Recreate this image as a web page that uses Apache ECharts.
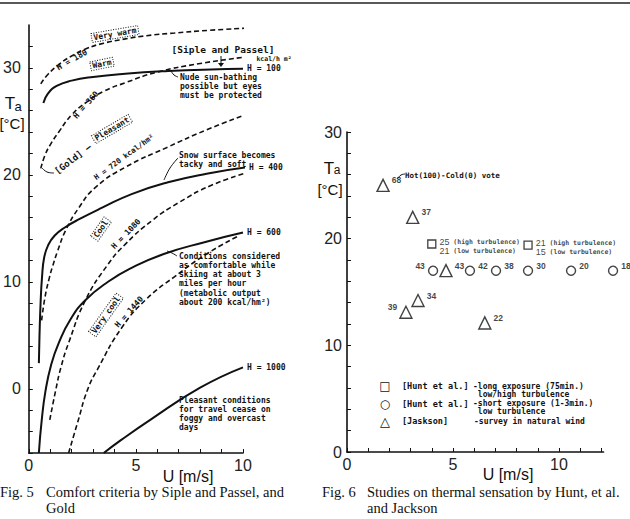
<!DOCTYPE html>
<html>
<head>
<meta charset="UTF-8">
<script src="https://cdn.jsdelivr.net/npm/echarts@6/dist/echarts.min.js"></script>
<style>html,body{margin:0;background:#fff}#main{width:630px;height:519px}</style>
</head>
<body>
<div id="main"></div>
<script>
// Fig. 5 curves, [U (m/s), Ta (C)]
const h100 = [[0.68,26.7],[0.9,27.6],[1.3,28.3],[2.0,28.8],[3.0,29.15],[4.5,29.45],[6.5,29.7],[8.5,29.85],[10.0,29.9]];
const h180 = [[0.56,28.5],[0.9,29.4],[1.4,30.3],[2.0,31.1],[2.7,31.8],[3.5,32.3],[4.5,32.7],[5.5,33.0],[6.8,33.25],[8.4,33.5],[10.1,33.7]];
const h360 = [[0.56,20.6],[0.75,21.8],[1.0,22.8],[1.4,24.0],[2.0,25.6],[2.7,26.8],[3.5,27.8],[4.5,28.6],[6.0,29.6],[8.0,30.4],[10.1,31.0]];
const h400 = [[0.47,2.4],[0.5,5],[0.55,8],[0.62,10.5],[0.72,12.3],[0.9,13.4],[1.2,14.3],[1.7,15.1],[2.4,15.9],[3.4,16.9],[4.8,18.2],[6.5,19.3],[8.3,20.1],[10.2,20.7]];
const h600 = [[0.47,-6],[0.6,-3],[0.78,-0.2],[1.05,2.3],[1.4,4.3],[1.95,6.5],[2.65,8.3],[3.7,10.0],[4.8,11.3],[6.3,12.6],[8.2,13.7],[10.0,14.6]];
const h720 = [[0.6,6.4],[0.75,8.5],[0.95,10.3],[1.12,11.5],[1.35,12.9],[1.72,14.8],[2.33,16.9],[3.1,18.8],[4.5,20.7],[6.5,22.6],[8.3,24.2],[10.1,25.6]];
const h1000 = [[3.5,-6],[4.3,-4.8],[5.67,-2.9],[8.0,0.1],[10.0,2.0]];
const h1080 = [[0.98,-2.9],[1.26,-0.1],[1.5,2.0],[1.86,4.3],[2.65,8.3],[3.65,11.5],[4.5,13.5],[5.8,15.8],[7.0,17.4],[8.5,19.0],[10.2,20.2]];
const h1440 = [[1.86,-6],[2.3,-3],[2.74,-0.1],[3.2,1.8],[4.37,5.8],[5.5,8.4],[6.75,10.4],[8.3,12.6],[9.8,14.3]];

// Fig. 6 points
const triU = [1.7, 3.1, 4.67, 3.35, 2.78, 6.5];
const triT = [25, 22, 17, 14.2, 13.1, 12.1];
const triV = ['68', '37', '43', '34', '39', '22'];
const cirU = [4.06, 5.8, 7.03, 8.54, 10.57, 12.55];
const cirT = [17, 17, 17, 17, 17, 17];
const cirV = ['43', '42', '38', '30', '20', '18'];
const sqU = [4.0, 8.54];
const sqT = [19.5, 19.4];
const sqHigh = ['25', '21'];
const sqLow = ['21', '15'];

const MONO = '"DejaVu Sans Mono", monospace';
const SANS = '"Liberation Sans", Arial, sans-serif';
const SERIF = '"Liberation Serif", serif';
const INK = '#111';

let myChart = echarts.init(document.getElementById('main'), null, {renderer: 'svg'});

function curve(data, dashed, endText) {
    let s = {
        type: 'line', xAxisIndex: 0, yAxisIndex: 0, data: data,
        smooth: 0.5, symbol: 'none', silent: true,
        lineStyle: {color: INK, width: dashed ? 1.6 : 2, type: dashed ? [5, 3] : 'solid'}
    };
    if (endText) {
        s.endLabel = {show: true, formatter: endText, fontFamily: MONO, fontSize: 8, fontWeight: 'bold', color: INK, distance: 4};
    }
    return s;
}

function pts(us, ts, vs, side) {
    return us.map((u, i) => ({
        value: [u, ts[i]],
        label: {formatter: vs[i], position: (side && side[i]) || 'right', offset: [0, -5]}
    }));
}

function txt(x, y, text, size, rot, extra) {
    return {
        type: 'text', x: x, y: y, rotation: rot || 0,
        style: Object.assign({
            text: text, fill: INK, font: 'bold ' + size + 'px ' + MONO,
            textAlign: 'center', textVerticalAlign: 'middle', align: 'center', verticalAlign: 'middle'
        }, extra || {})
    };
}
function box(x, y, text, rot) {
    return txt(x, y, text, 8, rot, {borderColor: INK, borderWidth: 1, borderDash: [1, 1.5], padding: [1, 2, 0, 2]});
}
function para(x, y, lines, step) {
    return lines.map((l, i) => txt(x, y + i * step, l, 8, 0, {textAlign: 'left', align: 'left'}));
}
function lead(points) {
    return {type: 'polyline', shape: {points: points, smooth: 0.4}, style: {stroke: INK, lineWidth: 1, fill: null}};
}
const left = {textAlign: 'left', align: 'left'};
const cap = s => Object.assign({font: '14.5px ' + SERIF}, left);
const key = Object.assign({font: 'bold 8.5px ' + MONO}, left);

let graphics = [
    {type: 'line', shape: {x1: 0, y1: 3, x2: 630, y2: 3}, style: {stroke: '#222', lineWidth: 1.5}},
    // Fig. 5 axis names
    txt(10, 103, 'T', 17, 0, {font: '17px ' + SANS}),
    txt(18, 106, 'a', 13, 0, {font: '13px ' + SANS}),
    txt(12, 123, '[°C]', 15, 0, {font: '15px ' + SANS}),
    txt(188, 476, 'U [m/s]', 16, 0, {font: '16px ' + SANS}),
    // Fig. 5 notes
    box(115, 34, 'Very warm', 0.17),
    txt(72, 60, 'H = 180', 8, 0.52),
    box(102, 64, 'Warm', 0.2),
    txt(223, 49, '[Siple and Passel]', 9.5, 0),
    txt(274, 59, 'kcal/h m²', 6.5, 0),
    {type: 'line', shape: {x1: 221, y1: 56, x2: 221, y2: 65}, style: {stroke: INK, lineWidth: 1}},
    {type: 'polygon', shape: {points: [[218, 63], [224, 63], [221, 67]]}, style: {fill: INK}},
    ...para(180, 77, ['Nude sun-bathing', 'possible but eyes', 'must be protected'], 9),
    lead([[171, 71], [174, 75], [178, 77]]),
    txt(86, 105, 'H = 360', 8, 0.85),
    box(112, 129, 'Pleasant', 0.53),
    txt(73, 159, '[Gold] —', 9, 0.65),
    lead([[42, 168], [47, 172], [54, 173]]),
    txt(124, 157, 'H = 720 kcal/hm²', 7.5, 0.63),
    ...para(179, 155, ['Snow surface becomes', 'tacky and soft'], 9.5),
    lead([[178, 158], [170, 168], [164, 180]]),
    box(101, 229, 'Cool', 0.95),
    txt(126, 234, 'H = 1080', 8, 0.8),
    ...para(179, 256, ['Conditions considered', 'as comfortable while', 'skiing at about 3', 'miles per hour', '(metabolic output', 'about 200 kcal/hm²)'], 9.3),
    lead([[167, 251], [172, 253], [177, 256]]),
    box(106, 315, 'Very cool', 0.95),
    txt(129, 312, 'H = 1440', 8, 0.85),
    ...para(179, 400, ['Pleasant conditions', 'for travel cease on', 'foggy and overcast', 'days'], 9),
    // Fig. 6 axis names, notes and key
    txt(329, 168, 'T', 17, 0, {font: '17px ' + SANS}),
    txt(337, 170, 'a', 12, 0, {font: '12px ' + SANS}),
    txt(330, 189, '[°C]', 15, 0, {font: '15px ' + SANS}),
    txt(508, 474, 'U [m/s]', 16, 0, {font: '16px ' + SANS}),
    txt(405, 175, 'Hot(100)-Cold(0) vote', 7.5, 0, left),
    lead([[397, 179], [401, 175], [405, 174]]),
    txt(385, 386, '□', 12, 0, {font: '12px "DejaVu Sans"'}),
    txt(385, 404, '○', 12, 0, {font: '12px "DejaVu Sans"'}),
    txt(385, 421, '△', 13, 0, {font: '13px "DejaVu Sans"'}),
    txt(402, 386, '[Hunt et al.]', 8.5, 0, key),
    txt(402, 404, '[Hunt et al.]', 8.5, 0, key),
    txt(402, 421, '[Jaskson]', 8.5, 0, key),
    ...para(473, 386, ['-long exposure (75min.)', ' low/high turbulence', '-short exposure (1-3min.)', ' low turbulence'], 8.6),
    txt(474, 421, '-survey in natural wind', 8, 0, left),
    // captions
    txt(0, 492, 'Fig. 5', 14.5, 0, cap()),
    txt(46, 492, 'Comfort criteria by Siple and Passel, and', 14.5, 0, cap()),
    txt(46, 508, 'Gold', 14.5, 0, cap()),
    txt(322, 492, 'Fig. 6', 14.5, 0, cap()),
    txt(367, 492, 'Studies on thermal sensation by Hunt, et al.', 14.5, 0, cap()),
    txt(367, 508, 'and Jackson', 14.5, 0, cap())
];

function axisStyle(extra) {
    return Object.assign({
        axisLine: {show: true, onZero: false, lineStyle: {color: INK, width: 1.6}},
        axisTick: {show: true, inside: true, length: 4, lineStyle: {color: INK, width: 1}},
        splitLine: {show: false}
    }, extra);
}
const bigLabel = (every, margin) => ({
    fontFamily: SANS, fontSize: 16, color: '#222', margin: margin,
    formatter: v => (Math.abs(v % every) < 1e-9 ? String(v) : ''),
    showMinLabel: true, showMaxLabel: false
});

let option = {
    animation: false,
    backgroundColor: '#fff',
    grid: [
        {left: 28, top: 25, width: 215, height: 428},
        {left: 347, top: 132, width: 256.5, height: 320}
    ],
    xAxis: [
        axisStyle({gridIndex: 0, type: 'value', min: 0, max: 10, interval: 1, axisLabel: Object.assign(bigLabel(5, 4), {showMaxLabel: true})}),
        axisStyle({gridIndex: 1, type: 'value', min: 0, max: 12.1, interval: 1, axisLabel: bigLabel(5, 4)})
    ],
    yAxis: [
        axisStyle({gridIndex: 0, type: 'value', min: -6, max: 34, interval: 2, axisLabel: bigLabel(10, 8)}),
        axisStyle({gridIndex: 1, type: 'value', min: 0, max: 30, interval: 2, axisLabel: Object.assign(bigLabel(10, 5), {showMaxLabel: true})})
    ],
    series: [
        curve(h100, false, 'H = 100'),
        curve(h180, true),
        curve(h360, true),
        curve(h400, false, 'H = 400'),
        curve(h600, false, 'H = 600'),
        curve(h720, true),
        curve(h1000, false, 'H = 1000'),
        curve(h1080, true),
        curve(h1440, true),
        {
            type: 'scatter', xAxisIndex: 1, yAxisIndex: 1, clip: false, silent: true,
            symbol: 'triangle', symbolSize: 12,
            itemStyle: {color: '#fff', borderColor: INK, borderWidth: 1.4},
            label: {show: true, fontFamily: SANS, fontSize: 8.5, fontWeight: 'bold', color: INK, distance: 2},
            data: pts(triU, triT, triV, {4: 'left'})
        },
        {
            type: 'scatter', xAxisIndex: 1, yAxisIndex: 1, clip: false, silent: true,
            symbol: 'circle', symbolSize: 9,
            itemStyle: {color: '#fff', borderColor: INK, borderWidth: 1.4},
            label: {show: true, fontFamily: SANS, fontSize: 8.5, fontWeight: 'bold', color: INK, distance: 3},
            data: pts(cirU, cirT, cirV, {0: 'left'})
        },
        {
            type: 'scatter', xAxisIndex: 1, yAxisIndex: 1, clip: false, silent: true,
            symbol: 'rect', symbolSize: 8,
            itemStyle: {color: '#fff', borderColor: INK, borderWidth: 1.3},
            label: {
                show: true, position: 'right', distance: 3, offset: [0, 2], color: INK, lineHeight: 9,
                formatter: p => '{n|' + sqHigh[p.dataIndex] + '}{s| (high turbulence)}\n{n|' + sqLow[p.dataIndex] + '}{s| (low turbulence)}',
                rich: {
                    n: {fontFamily: SANS, fontSize: 9, color: INK, lineHeight: 9},
                    s: {fontFamily: MONO, fontSize: 6.5, fontWeight: 'bold', color: INK, lineHeight: 9}
                }
            },
            data: sqU.map((u, i) => [u, sqT[i]])
        }
    ],
    graphic: graphics
};
myChart.setOption(option);
</script>
</body>
</html>
